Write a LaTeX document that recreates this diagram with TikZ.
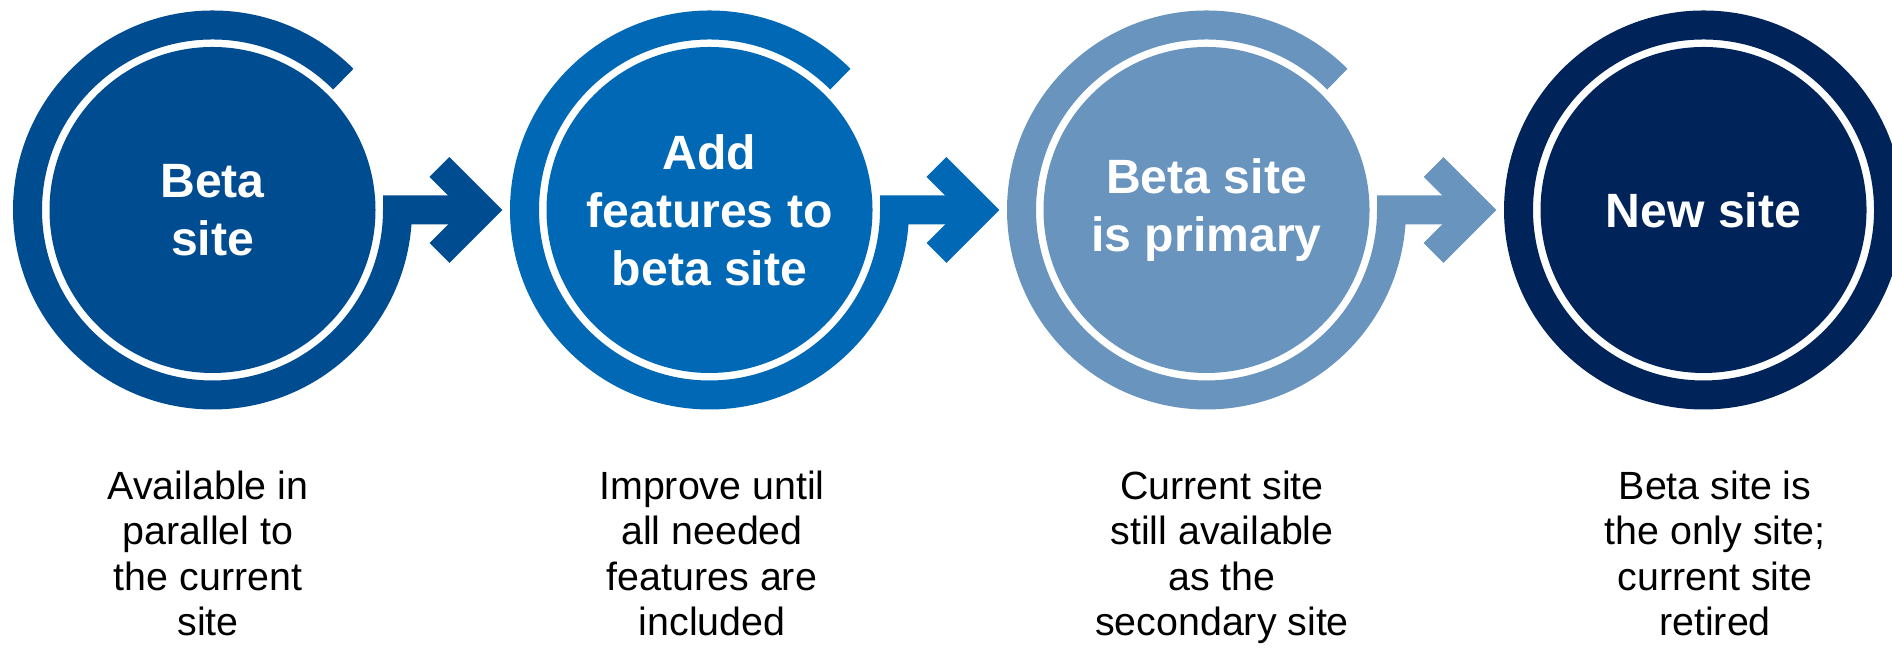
\documentclass[tikz,border=0pt]{standalone}
\usepackage{fontspec}
\setmainfont{Liberation Sans}
\usetikzlibrary{calc}
\definecolor{stepone}{RGB}{0,76,145}
\definecolor{steptwo}{RGB}{0,104,180}
\definecolor{stepthree}{RGB}{104,148,190}
\definecolor{stepfour}{RGB}{0,35,90}
\begin{document}
\begin{tikzpicture}
	\tikzset{
		disc/.style={circle,minimum size=3.26cm,inner sep=0,text=white,align=center,
			font=\bfseries\fontsize{13.7}{16.5}\selectfont},
		ring/.style={line width=0.29cm,line join=miter},
		chev/.style={line width=0.28cm,line join=miter},
		desc/.style={anchor=north,inner sep=0,align=center,
			font=\fontsize{11.2}{12.95}\selectfont}}
	\useasboundingbox (0,0) rectangle (18.92,6.48);
	\node[disc,fill=stepone](c1) at (2.125,4.38){Beta\\site};
	\node[disc,fill=steptwo](c2) at (7.095,4.38){Add\\features to\\beta site};
	\node[disc,fill=stepthree](c3) at (12.065,4.38){Beta site\\is primary};
	\node[disc,fill=stepfour](c4) at (17.035,4.38){New site};
	\draw[ring,stepone]([shift={(45:1.85)}]c1.center) arc[start angle=45,end angle=360,radius=1.85]-- ++(0.85,0);
	\draw[ring,steptwo]([shift={(45:1.85)}]c2.center) arc[start angle=45,end angle=360,radius=1.85]-- ++(0.85,0);
	\draw[ring,stepthree]([shift={(45:1.85)}]c3.center) arc[start angle=45,end angle=360,radius=1.85]-- ++(0.85,0);
	\draw[ring,stepfour](c4.center) circle[radius=1.85];
	\draw[chev,stepone]($(c1.center)+(2.27,0.43)$)-- ++(0.43,-0.43)-- ++(-0.43,-0.43);
	\draw[chev,steptwo]($(c2.center)+(2.27,0.43)$)-- ++(0.43,-0.43)-- ++(-0.43,-0.43);
	\draw[chev,stepthree]($(c3.center)+(2.27,0.43)$)-- ++(0.43,-0.43)-- ++(-0.43,-0.43);
	\node[desc](d1) at (2.08,1.78){Available in\\parallel to\\the current\\site};
	\node[desc](d2) at (7.12,1.78){Improve until\\all needed\\features are\\included};
	\node[desc](d3) at (12.22,1.78){Current site\\still available\\as the\\secondary site};
	\node[desc](d4) at (17.15,1.78){Beta site is\\the only site;\\current site\\retired};
\end{tikzpicture}
\end{document}
